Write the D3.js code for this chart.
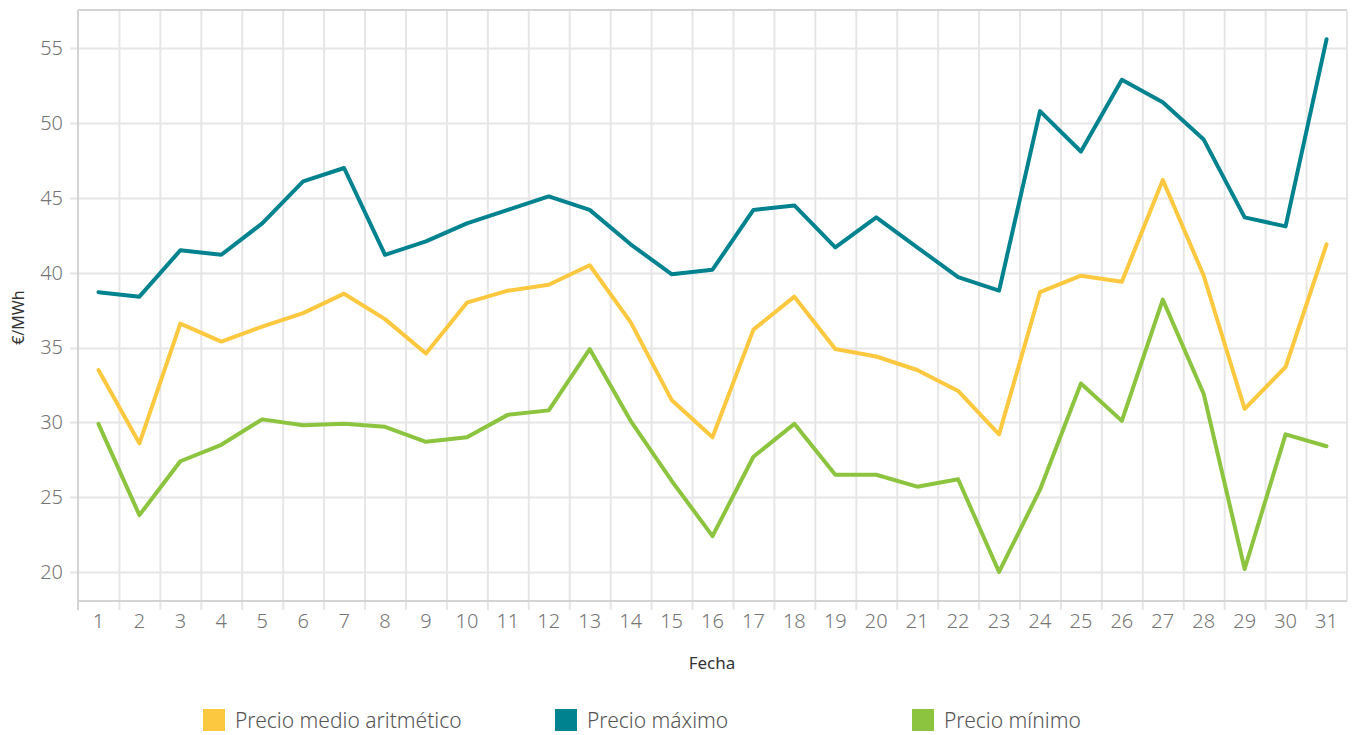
<!DOCTYPE html>
<html>
<head>
<meta charset="utf-8">
<script src="https://cdn.jsdelivr.net/npm/d3@7"></script>
<style>
  body { margin: 0; background: #fff; }
  svg text { font-family: "Noto Sans", "Open Sans", sans-serif; }
</style>
</head>
<body>
<svg id="chart"></svg>
<script>
// days of the month
var dias = d3.range(1, 32).map(String);

// €/MWh values
var precioMedio = [33.5, 28.6, 36.6, 35.4, 36.4, 37.3, 38.6, 36.9, 34.6, 38.0,
  38.8, 39.2, 40.5, 36.7, 31.5, 29.0, 36.2, 38.4, 34.9, 34.4,
  33.5, 32.1, 29.2, 38.7, 39.8, 39.4, 46.2, 39.8, 30.9, 33.7, 41.9];
var precioMaximo = [38.7, 38.4, 41.5, 41.2, 43.3, 46.1, 47.0, 41.2, 42.1, 43.3,
  44.2, 45.1, 44.2, 41.9, 39.9, 40.2, 44.2, 44.5, 41.7, 43.7,
  41.7, 39.7, 38.8, 50.8, 48.1, 52.9, 51.4, 48.9, 43.7, 43.1, 55.6];
var precioMinimo = [29.9, 23.8, 27.4, 28.5, 30.2, 29.8, 29.9, 29.7, 28.7, 29.0,
  30.5, 30.8, 34.9, 30.1, 26.1, 22.4, 27.7, 29.9, 26.5, 26.5,
  25.7, 26.2, 20.0, 25.5, 32.6, 30.1, 38.2, 31.9, 20.2, 29.2, 28.4];

var yTicks = [20, 25, 30, 35, 40, 45, 50, 55];

var series = [
  { name: "Precio medio aritmético", values: precioMedio, color: "#fcc83f" },
  { name: "Precio máximo", values: precioMaximo, color: "#00838f" },
  { name: "Precio mínimo", values: precioMinimo, color: "#8cc43f" }
];

var svgWidth = 1355, svgHeight = 735;
var margin = { top: 10, right: 8, bottom: 134, left: 78 };
var width = svgWidth - margin.left - margin.right;
var height = svgHeight - margin.top - margin.bottom;

var svg = d3.select("#chart")
  .attr("width", svgWidth)
  .attr("height", svgHeight);

var g = svg.append("g")
  .attr("transform", "translate(" + margin.left + "," + margin.top + ")");

// scales
var x = d3.scaleBand().domain(dias).range([0, width]);
var y = d3.scaleLinear().domain([18.06, 57.56]).range([height, 0]);

// vertical grid at band edges
g.append("g")
  .selectAll("line")
  .data(dias.slice(1))
  .join("line")
  .attr("x1", function (d) { return x(d) + 0.5; })
  .attr("x2", function (d) { return x(d) + 0.5; })
  .attr("y1", 0)
  .attr("y2", height + 9)
  .attr("stroke", "#e6e6e6")
  .attr("stroke-width", 2);

// horizontal grid
g.append("g")
  .selectAll("line")
  .data(yTicks)
  .join("line")
  .attr("x1", -8)
  .attr("x2", width)
  .attr("y1", function (d) { return Math.round(y(d)) + 0.5; })
  .attr("y2", function (d) { return Math.round(y(d)) + 0.5; })
  .attr("stroke", "#e6e6e6")
  .attr("stroke-width", 2);

// frame
g.append("line").attr("x1", 0).attr("x2", width).attr("y1", 0).attr("y2", 0)
  .attr("stroke", "#d4d4d4").attr("stroke-width", 2);
g.append("line").attr("x1", width).attr("x2", width).attr("y1", 0).attr("y2", height)
  .attr("stroke", "#e6e6e6").attr("stroke-width", 2);
g.append("line").attr("x1", 0).attr("x2", 0).attr("y1", 0).attr("y2", height + 9)
  .attr("stroke", "#d4d4d4").attr("stroke-width", 2);
g.append("line").attr("x1", 0).attr("x2", width).attr("y1", height).attr("y2", height)
  .attr("stroke", "#d4d4d4").attr("stroke-width", 2);

// y axis labels
var yAxis = g.append("g")
  .call(d3.axisLeft(y).tickValues(yTicks).tickSize(0).tickPadding(15));
yAxis.select(".domain").remove();
yAxis.selectAll("text")
  .attr("fill", "#757575")
  .style("font-size", "20px")
  .style("font-weight", "300");

// x axis labels
var xAxis = g.append("g")
  .attr("transform", "translate(0," + height + ")")
  .call(d3.axisBottom(x).tickSize(0).tickPadding(13));
xAxis.select(".domain").remove();
xAxis.selectAll("text")
  .attr("fill", "#757575")
  .style("font-size", "20px")
  .style("font-weight", "300");

// axis titles
svg.append("text")
  .attr("transform", "translate(24," + (margin.top + y(37)) + ") rotate(-90)")
  .attr("text-anchor", "middle")
  .attr("fill", "#333")
  .style("font-size", "16px")
  .text("€/MWh");

svg.append("text")
  .attr("x", 712)
  .attr("y", 669)
  .attr("text-anchor", "middle")
  .attr("fill", "#333")
  .style("font-size", "17px")
  .text("Fecha");

// lines
var line = d3.line()
  .x(function (d, i) { return x(dias[i]) + x.bandwidth() / 2; })
  .y(function (d) { return y(d); });

g.selectAll(".serie")
  .data(series)
  .join("path")
  .attr("class", "serie")
  .attr("fill", "none")
  .attr("stroke", function (d) { return d.color; })
  .attr("stroke-width", 4)
  .attr("stroke-linejoin", "round")
  .attr("stroke-linecap", "round")
  .attr("d", function (d) { return line(d.values); });

// legend
var legendX = [203, 555, 912];
var legend = svg.append("g")
  .selectAll("g")
  .data(series)
  .join("g")
  .attr("transform", function (d, i) { return "translate(" + legendX[i] + ",709)"; });

legend.append("rect")
  .attr("width", 22)
  .attr("height", 22)
  .attr("fill", function (d) { return d.color; });

legend.append("text")
  .attr("x", 32)
  .attr("y", 19)
  .attr("fill", "#555")
  .style("font-size", "21px")
  .style("font-weight", "300")
  .text(function (d) { return d.name; });
</script>
</body>
</html>
